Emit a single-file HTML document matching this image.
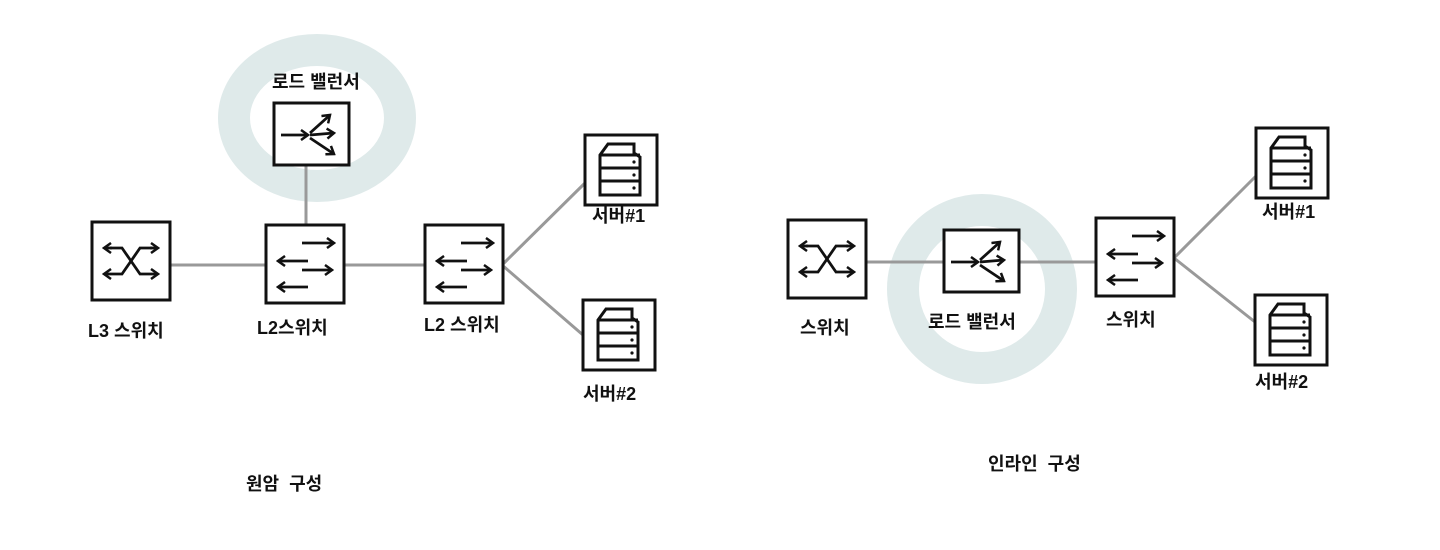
<!DOCTYPE html>
<html><head><meta charset="utf-8"><style>
html,body{margin:0;padding:0;background:#fff;width:1440px;height:550px;overflow:hidden}
svg{display:block}
text{font-family:"Liberation Sans","Noto Sans CJK KR","NanumGothic",sans-serif;font-size:18px;fill:#111;font-weight:bold}
</style></head><body>
<svg width="1440" height="550" viewBox="0 0 1440 550" xmlns="http://www.w3.org/2000/svg">
<defs>
<marker id="ah" markerWidth="10" markerHeight="12" refX="8" refY="6" orient="auto" markerUnits="userSpaceOnUse"><path d="M1,1 L8,6 L1,11" fill="none" stroke="#111" stroke-width="2.5"/></marker>
<g id="l3"><rect x="0" y="0" width="78" height="78" fill="#fff" stroke="#111" stroke-width="3"/>
<path d="M18,26 L30,26 L48,52 L66,52" fill="none" stroke="#111" stroke-width="2.8" marker-end="url(#ah)"/>
<path d="M60,26 L48,26 L30,52 L12,52" fill="none" stroke="#111" stroke-width="2.8" marker-end="url(#ah)"/>
<path d="M20,26 L12,26" stroke="#111" stroke-width="2.8" marker-end="url(#ah)"/>
<path d="M58,26 L66,26" stroke="#111" stroke-width="2.8" marker-end="url(#ah)"/>
</g>
<g id="l2"><rect x="0" y="0" width="78" height="78" fill="#fff" stroke="#111" stroke-width="3"/>
<line x1="36" y1="18" x2="68" y2="18" stroke="#111" stroke-width="2.8" marker-end="url(#ah)"/>
<line x1="42" y1="36" x2="12" y2="36" stroke="#111" stroke-width="2.8" marker-end="url(#ah)"/>
<line x1="36" y1="45" x2="66" y2="45" stroke="#111" stroke-width="2.8" marker-end="url(#ah)"/>
<line x1="42" y1="62" x2="12" y2="62" stroke="#111" stroke-width="2.8" marker-end="url(#ah)"/>
</g>
<g id="lb"><rect x="0" y="0" width="75" height="62" fill="#fff" stroke="#111" stroke-width="3"/>
<line x1="7" y1="32" x2="34" y2="32" stroke="#111" stroke-width="2.8" marker-end="url(#ah)"/>
<line x1="36" y1="30" x2="56" y2="12" stroke="#111" stroke-width="2.8" marker-end="url(#ah)"/>
<line x1="36" y1="32" x2="60" y2="30" stroke="#111" stroke-width="2.8" marker-end="url(#ah)"/>
<line x1="36" y1="35" x2="60" y2="51" stroke="#111" stroke-width="2.8" marker-end="url(#ah)"/>
</g>
<g id="sv"><rect x="0" y="0" width="72" height="70" fill="#fff" stroke="#111" stroke-width="3"/>
<path d="M15,20 L23,9 L49,9 L49,18 L55,22 L55,60 L15,60 Z" fill="none" stroke="#111" stroke-width="3"/>
<line x1="15" y1="20" x2="55" y2="20" stroke="#111" stroke-width="3"/>
<line x1="15" y1="33" x2="55" y2="33" stroke="#111" stroke-width="3"/>
<line x1="15" y1="46" x2="55" y2="46" stroke="#111" stroke-width="3"/>
<circle cx="49" cy="27" r="1.6" fill="#111"/><circle cx="49" cy="40" r="1.6" fill="#111"/><circle cx="49" cy="53" r="1.6" fill="#111"/>
</g>
</defs>

<!-- LEFT -->
<ellipse cx="317" cy="118" rx="83" ry="68" fill="none" stroke="#dfeaea" stroke-width="32"/>
<g stroke="#999" stroke-width="3" fill="none">
<line x1="170" y1="265" x2="265" y2="265"/>
<line x1="345" y1="265" x2="425" y2="265"/>
<line x1="306" y1="165" x2="306" y2="225"/>
<line x1="502" y1="265" x2="585" y2="183"/>
<line x1="502" y1="265" x2="583" y2="335"/>
</g>
<use href="#l3" x="92" y="222"/>
<use href="#l2" x="266" y="225"/>
<use href="#l2" x="425" y="225"/>
<use href="#lb" x="274" y="103"/>
<use href="#sv" x="585" y="135"/>
<use href="#sv" x="583" y="300"/>
<text x="272" y="88">로드 밸런서</text>
<text x="88" y="337">L3 스위치</text>
<text x="257" y="334">L2스위치</text>
<text x="424" y="331">L2 스위치</text>
<text x="592" y="222">서버#1</text>
<text x="583" y="400">서버#2</text>
<text x="246" y="490">원암 &#160;구성</text>

<!-- RIGHT -->
<ellipse cx="982" cy="289" rx="79" ry="79" fill="none" stroke="#dfeaea" stroke-width="32"/>
<g stroke="#999" stroke-width="3" fill="none">
<line x1="866" y1="262" x2="944" y2="262"/>
<line x1="1019" y1="262" x2="1096" y2="262"/>
<line x1="1174" y1="258" x2="1256" y2="176"/>
<line x1="1174" y1="258" x2="1255" y2="322"/>
</g>
<use href="#l3" x="788" y="220"/>
<use href="#lb" x="944" y="230"/>
<use href="#l2" x="1096" y="218"/>
<use href="#sv" x="1256" y="128"/>
<use href="#sv" x="1255" y="295"/>
<text x="800" y="334">스위치</text>
<text x="928" y="328">로드 밸런서</text>
<text x="1106" y="326">스위치</text>
<text x="1262" y="218">서버#1</text>
<text x="1255" y="388">서버#2</text>
<text x="988" y="470">인라인 &#160;구성</text>
</svg>
</body></html>
